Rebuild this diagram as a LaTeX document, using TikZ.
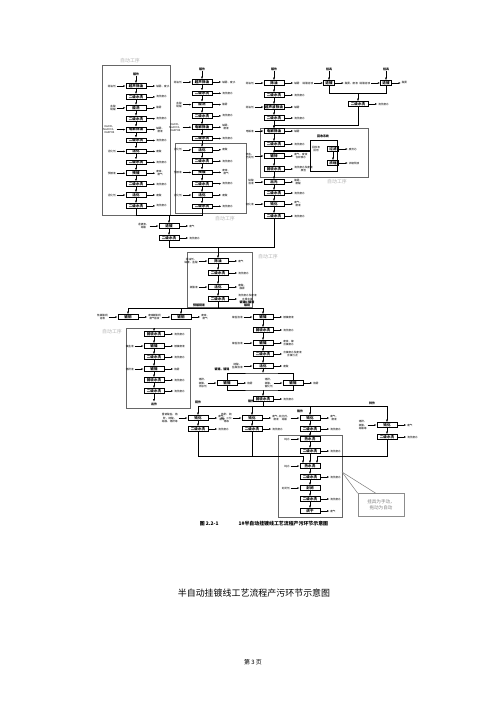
\documentclass[tikz,border=0pt]{standalone}
\usepackage{fontspec}
\setmainfont{Noto Sans CJK SC}
\usetikzlibrary{arrows.meta,positioning}
\tikzset{
  unit/.style={draw,line width=0.45pt,minimum width=0.4cm,minimum height=0.095cm,inner sep=0.3pt,font=\fontsize{2}{2.2}\selectfont\bfseries},
  small/.style={unit,minimum width=0.22cm},
  lbl/.style={font=\fontsize{1.5}{1.8}\selectfont,align=center,inner sep=0.3pt},
  tag/.style={font=\fontsize{1.7}{2}\selectfont\bfseries,align=center,inner sep=0.3pt},
  flow/.style={-{Latex[length=0.5mm,width=0.4mm]},line width=0.4pt},
  feed/.style={-{Latex[length=0.45mm,width=0.35mm]},line width=0.3pt},
  pipe/.style={line width=0.4pt},
  frame/.style={draw=black!60,line width=0.3pt},
  zone/.style={text=black!30,font=\fontsize{2.8}{3}\selectfont,inner sep=0pt}
}

\begin{document}
\begin{tikzpicture}[x=0.02cm,y=-0.02cm,node distance=1.8mm]
  \useasboundingbox (0,0) rectangle (500,707);
  \draw[frame] (102,65) rectangle (170,215);
  \draw[frame] (175,143) rectangle (246,213);
  \draw[frame] (260,128) rectangle (368,177);
  \draw[frame] (187,252) rectangle (252,307);
  \draw[frame] (126,328) rectangle (190,408);
  \draw[frame] (278,435) rectangle (342,517);
  \foreach \nm/\px/\py in {z1/130/61,z2/225/219,z3/337/182,z4/268/257,z5/112/332}
    \node[zone] (\nm) at (\px,\py) {自动工序};

  \foreach \cl/\px/\py/\dy in {A/136/86/10.9,B/202/82/11.3}{
    \foreach \n/\stp/\waste in {1/超声除油/碱雾、废水,2/二级水洗/清洗废水,3/酸洗/酸雾,
      4/二级水洗/清洗废水,5/电解除油/{碱雾、\\废液},6/二级水洗/清洗废水,7/活化/废酸,
      8/二级水洗/清洗废水,9/预镀/{废液、\\废气},10/二级水洗/清洗废水,11/活化/废酸,
      12/二级水洗/清洗废水}{
      \node[unit] (\cl\n) at (\px,{\py+\dy*(\n-1)}) {\stp};
      \node[lbl,right=of \cl\n] (\cl o\n) {\waste};
      \draw[feed] (\cl\n) -- (\cl o\n);
    }
    \foreach \n/\feedin in {1/除油剂,3/{盐酸\\硫酸},5/{NaOH、\\Na2CO3、\\Na3PO4},
      7/活化剂,9/预镀液,11/活化剂}{
      \node[lbl,left=of \cl\n] (\cl i\n) {\feedin};
      \draw[feed] (\cl i\n) -- (\cl\n);
    }
    \foreach \n [evaluate=\n as \m using int(\n+1)] in {1,...,11}
      \draw[flow] (\cl\n) -- (\cl\m);
  }

  \foreach \nm/\px/\py/\stp in {
    C1/274/83/除油, C2/274/95/二级水洗, C3/274/107/超声波除油, C4/274/118/二级水洗,
    C5/274/131/电解除油, C6/274/144/二级水洗, C7/274/156/镀锌, C8/274/169/回收水洗,
    C9/274/182/出光, C10/274/193/二级水洗, C11/274/204/钝化, C12/274/216/二级水洗,
    W/358/104/二级水洗, M1/169/226/退镀, M2/169/238/二级水洗,
    D1/218/261/除油, D2/218/273/二级水洗, D3/218/287/活化, D4/218/299/二级水洗,
    H1/128/317/镀铜, H2/181/317/镀铜,
    G1/263/317/镀镍, G2/263/330/回收水洗, G3/263/343/镀镍, G4/263/354/二级水洗,
    G5/263/366/活化, G6/263/399/回收水洗, L1/227/383/镀铬, L2/293/383/镀铬,
    I1/154/334/回收水洗, I2/154/346/镀镍, I3/154/357/二级水洗, I4/154/369/镀铬,
    I5/154/380/回收水洗, I6/154/391/二级水洗,
    J1/198/418/钝化, J2/198/429/二级水洗, K1/252/418/钝化, K2/252/429/二级水洗,
    Q1/310/418/钝化, Q2/310/429/二级水洗, N1/387/425/钝化, N2/387/437/二级水洗,
    P1/310/439/热水洗, P2/310/451/二级水洗, P3/310/466/热水洗, P4/310/477/二级水洗,
    P5/310/488/封闭, P6/310/499/二级水洗, P7/310/511/烘干}
    \node[unit] (\nm) at (\px,\py) {\stp};
  \foreach \nm/\px/\py/\stp in {E1/329/83/退镀, F1/386/83/退镀, R1/333/149/过滤, R2/333/163/浓缩}
    \node[small] (\nm) at (\px,\py) {\stp};
  \foreach \nm/\px/\py/\stp in {Atop/136/74/镀件, Btop/202/69/镀件, Ctop/274/69/镀件,
    Etop/329/69/挂具, Ftop/386/69/挂具, rt/323/136/回收系统, dtl/199/305/预镀铜液,
    dtr/247/304/{镀镍、镀铬\\镀铜}, lp/222/369/镀铬、镀锡, t1/198/402/铜件, t2/251/401/镍件,
    t3/300/411/铬件, t4/372/403/锌件, Iend/154/404/出件}
    \node[tag] (\nm) at (\px,\py) {\stp};
  \node[lbl] (rl) at (316,149) {回收液\\回用};

  \foreach \nm/\waste in {
    C1/碱雾, C2/清洗废水, C3/碱雾, C4/清洗废水, C5/碱雾, C6/清洗废水,
    C7/{废气、废液\\含锌废水}, C8/{清洗废水及废液\\废渣}, C9/{酸雾、\\废酸}, C10/清洗废水,
    C11/{废气、\\废液}, C12/清洗废水, E1/{酸雾、废液}, F1/酸雾, W/清洗废水,
    R1/废滤芯, R2/浓缩残液, M1/废气, M2/清洗废水,
    D1/废气, D2/清洗废水, D3/{废酸、\\酸雾}, D4/{清洗废水及废液\\含重金属\\废水},
    H1/{废液、\\废气}, H2/{废液、\\废气},
    G1/镀镍废液, G2/清洗废水, G3/{废液、镍\\含镍废水}, G4/{含镍废水及废液\\含镍污泥},
    G5/废酸, G6/清洗废水, L1/铬雾, L2/铬雾,
    I1/清洗废水, I2/镀镍废液, I3/清洗废水, I4/铬雾, I5/清洗废水, I6/清洗废水,
    J1/{废气、\\废液}, J2/清洗废水, K1/{废气、\\废液}, K2/清洗废水,
    Q1/{废气、\\废液}, Q2/清洗废水, N1/废气, N2/清洗废水,
    P2/清洗废水, P4/清洗废水, P6/清洗废水, P7/废气}{
    \node[lbl,right=of \nm] (\nm o) {\waste};
    \draw[feed] (\nm) -- (\nm o);
  }
  \foreach \nm/\feedin in {
    C1/除油剂, C3/除油剂, C5/电解液, C7/{锌盐、\\光亮剂}, C9/{硝酸\\溶液}, C11/钝化液,
    E1/硝酸溶液, F1/硝酸溶液, M1/{退镀液、\\硝酸}, D1/{除油剂、\\碱液、盐酸}, D3/硫酸液,
    H1/{焦磷酸铜\\溶液}, H2/{硫酸铜\\溶液}, G1/镍盐溶液, G3/镍盐溶液, G5/{硫酸、\\盐酸溶液},
    L1/{铬酐、\\硫酸、\\添加剂}, L2/{铬酐、\\硫酸、\\催化剂}, I2/镍盐液, I4/铬酐液,
    J1/{重铬酸盐、铬\\酐、硫酸、\\硝酸、铬酐等}, K1/{铬酐、硫\\酸、三价\\铬等},
    Q1/{钝化剂、\\硝酸}, N1/{铬酐、\\硫酸、\\硝酸等}, P1/纯水, P3/纯水, P5/封闭剂}{
    \node[lbl,left=of \nm] (\nm i) {\feedin};
    \draw[feed] (\nm i) -- (\nm);
  }
  \foreach \src/\dst in {Ctop/C1, C1/C2, C2/C3, C3/C4, C4/C5, C5/C6, C6/C7, C7/C8, C8/C9,
    C9/C10, C10/C11, C11/C12, Atop/A1, Btop/B1, Etop/E1, Ftop/F1, R1/R2, M1/M2,
    D1/D2, D2/D3, D3/D4, G1/G2, G2/G3, G3/G4, G4/G5, I1/I2, I2/I3, I3/I4, I4/I5, I5/I6,
    I6/Iend, J1/J2, K1/K2, Q1/Q2, N1/N2, Q2/P1, P1/P2, P2/P3, P3/P4, P4/P5, P5/P6, P6/P7}
    \draw[flow] (\src) -- (\dst);

  \coordinate (ef) at (358,93);
  \draw[pipe] (E1) |- (ef);
  \draw[pipe] (F1) |- (ef);
  \draw[flow] (ef) -- (W);
  \coordinate (wc) at (274,125);
  \draw[flow] (W) |- (wc) -- (C5);
  \draw[pipe] (310,140) rectangle (337,171);
  \coordinate (rc) at (274,151);
  \coordinate (rin) at (310,151);
  \draw[line width=0.8pt] (rc) -- (rin);

  \coordinate (ab) at (169,215);
  \draw[pipe] (A12) |- (ab);
  \draw[pipe] (B12) |- (ab);
  \draw[flow] (ab) -- (M1);
  \coordinate (mj) at (218,247);
  \draw[pipe] (M2) |- (mj);
  \draw[pipe] (C12) |- (mj);
  \draw[flow] (mj) -- (D1);

  \coordinate (dh) at (218,308);
  \draw[pipe] (D4) -- (dh);
  \draw[pipe] (H1 |- dh) -- (G1 |- dh);
  \draw[flow] (H1 |- dh) -- (H1);
  \draw[flow] (H2 |- dh) -- (H2);
  \draw[flow] (G1 |- dh) -- (G1);
  \coordinate (itop) at (154,328);
  \draw[flow] (itop) -- (I1);

  \coordinate (lt) at (263,373);
  \coordinate (lb) at (263,390);
  \draw[flow] (G5) -- (lt);
  \draw[pipe] (L1) |- (lt) -| (L2);
  \draw[pipe] (L1) |- (lb) -| (L2);
  \draw[flow] (lb) -- (G6);

  \coordinate (rw) at (263,406);
  \draw[pipe] (G6) -- (rw);
  \draw[pipe] (J1 |- rw) -- (N1 |- rw);
  \draw[flow] (J1 |- rw) -- (J1);
  \draw[flow] (K1 |- rw) -- (K1);
  \draw[flow] (Q1 |- rw) -- (Q1);
  \draw[flow] (N1 |- rw) -- (N1);

  \coordinate (bl) at (303,456);
  \coordinate (br) at (317,456);
  \draw[pipe] (J2) |- (bl);
  \draw[pipe] (K2) -- (K2 |- bl);
  \draw[flow] (bl) -- (bl |- P3.north);
  \draw[pipe] (N2) |- (br);
  \draw[flow] (br) -- (br |- P3.north);

  \coordinate (cp) at (342,472);
  \node[draw=black!45,line width=0.3pt,minimum width=0.92cm,minimum height=0.46cm,text=black!50,
    font=\fontsize{2.6}{3.4}\selectfont,align=center] (note) at (381,505) {挂具为手动，\\拖动为自动};
  \draw[black!50,line width=0.3pt] (cp) -- (note.north west);
  \draw[black!50,line width=0.3pt] (cp) -- ([xshift=3.6mm]note.north west);

  \node[font=\fontsize{2.8}{3}\selectfont\bfseries] (cap) at (264,524)
    {图 2.2-1\hspace{4mm}1\#半自动挂镀线工艺流程产污环节示意图};
  \node[font=\fontsize{5.1}{6}\selectfont] (title) at (254,593) {半自动挂镀线工艺流程产污环节示意图};
  \node[font=\fontsize{3.4}{4}\selectfont] (pg) at (253,662) {第 3 页};
\end{tikzpicture}
\end{document}
